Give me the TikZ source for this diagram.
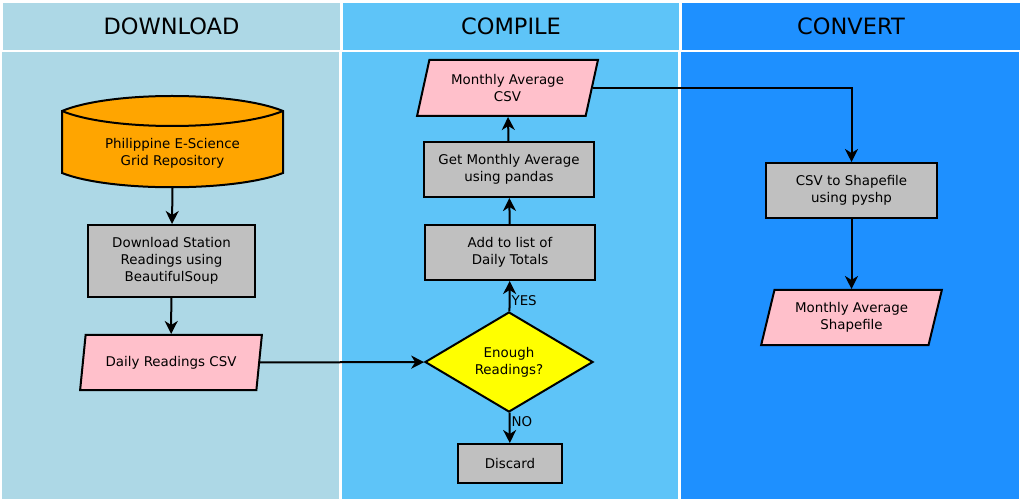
\documentclass[tikz,border=0pt]{standalone}
\usepackage{fontspec}
\setmainfont{DejaVu Sans}
\usetikzlibrary{arrows.meta,shapes.geometric}
\newcommand\nodefont{\fontsize{13.4}{17}\selectfont}
\newcommand\headfont{\fontsize{22.5}{26}\selectfont}
\definecolor{lane_one}{RGB}{173,216,230}
\definecolor{lane_two}{RGB}{94,196,248}
\definecolor{lane_three}{RGB}{30,144,255}
\definecolor{node_gray}{RGB}{192,192,192}
\definecolor{node_pink}{RGB}{255,192,203}
\definecolor{node_orange}{RGB}{255,165,0}
\definecolor{node_yell}{RGB}{255,255,0}

\begin{document}
\begin{tikzpicture}[x=1pt,y=-1pt,->,>={Stealth[length=13pt,width=13pt,inset=4pt]},line width=2pt]
    \tikzstyle{lane}=[draw=none, inner sep=0pt, anchor=north west, font=\headfont, text=black]
    \tikzstyle{node}=[draw=black, line width=2pt, inner sep=0pt, font=\nodefont, align=center, text=black]
    \tikzstyle{proc}=[style=node, rectangle, fill=node_gray]
    \tikzstyle{io}=[style=node, trapezium, trapezium left angle=72, trapezium right angle=108, trapezium stretches=true, fill=node_pink]
    \tikzstyle{decide}=[style=node, diamond, fill=node_yell]
    \tikzstyle{tag}=[inner sep=1pt, font=\nodefont, text=black, anchor=west]

    \useasboundingbox[fill=white] (0,0) rectangle (1022,502);

    % swim lanes
    \node[lane, fill=lane_one, minimum width=337, minimum height=47] (hdown) at (2,2) {DOWNLOAD};
    \node[lane, fill=lane_two, minimum width=336, minimum height=47] (hcomp) at (342,2) {COMPILE};
    \node[lane, fill=lane_three, minimum width=338, minimum height=47] (hconv) at (681,2) {CONVERT};
    \fill[lane_one] (2,52) rectangle (339,499);
    \fill[lane_two] (342,52) rectangle (678,499);
    \fill[lane_three] (681,52) rectangle (1019,499);

    % repository
    \draw[-, fill=node_orange] (62,111) .. controls (110,91) and (234,91) .. (283,111) -- (283,173)
        .. controls (234,192) and (110,192) .. (62,173) -- cycle;
    \draw[-] (62,111) .. controls (110,131) and (234,131) .. (283,111);
    \node[node, draw=none, minimum width=221, minimum height=40] (repo) at (172.5,153) {Philippine E-Science\\Grid Repository};

    \node[proc, minimum width=167, minimum height=72] (dload) at (171.5,261) {Download Station\\Readings using\\BeautifulSoup};
    \node[io, minimum width=182, minimum height=55] (dcsv) at (171,362.5) {Daily Readings CSV};
    \node[decide, minimum width=168, minimum height=100] (enough) at (509,362) {Enough\\Readings?};
    \node[proc, minimum width=104, minimum height=39] (discard) at (510,463.5) {Discard};
    \node[proc, minimum width=170, minimum height=55] (addlist) at (510,252.5) {Add to list of\\Daily Totals};
    \node[proc, minimum width=170, minimum height=55] (getavg) at (509,169.5) {Get Monthly Average\\using pandas};
    \node[io, minimum width=181, minimum height=56] (mcsv) at (507.5,88) {Monthly Average\\CSV};
    \node[proc, minimum width=171, minimum height=55] (toshp) at (851.5,190.5) {CSV to Shapefile\\using pyshp};
    \node[io, minimum width=181, minimum height=55] (mshp) at (851.5,317.5) {Monthly Average\\Shapefile};

    \path
     ([yshift=-14pt]repo.south) edge (dload)
     (dload) edge (dcsv)
     (dcsv) edge (enough)
     (enough) edge node[tag, pos=0.35] {YES} (addlist)
     (enough) edge node[tag, pos=0.3] {NO} (discard)
     (addlist) edge (getavg)
     (getavg) edge (mcsv)
     (toshp) edge (mshp)
     ;
    \draw (mcsv.east) -| (toshp.north);
\end{tikzpicture}
\end{document}
